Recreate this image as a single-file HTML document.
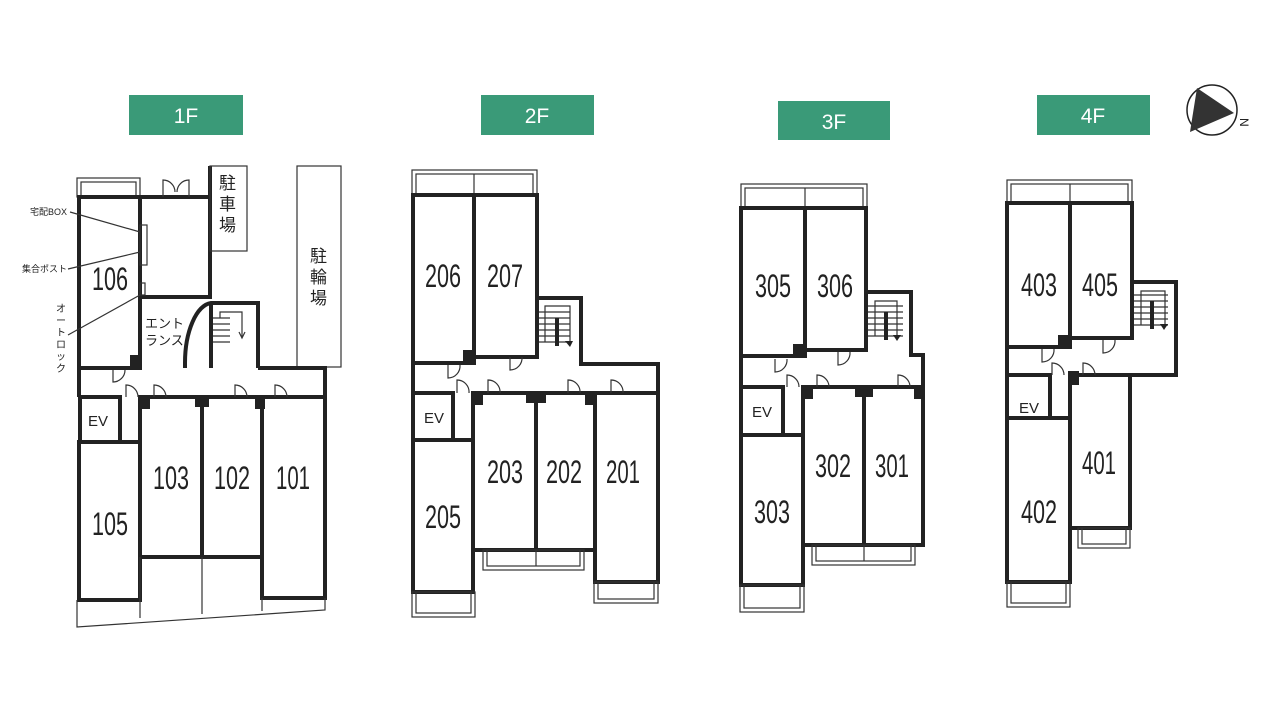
<!DOCTYPE html>
<html><head><meta charset="utf-8"><style>
html,body{margin:0;padding:0;background:#fff}
svg{display:block}
.w{fill:none;stroke:#222;stroke-width:4}
.t{fill:none;stroke:#333;stroke-width:1.2}
.n{font-family:"Liberation Sans Narrow","Liberation Sans",sans-serif;font-size:32px;fill:#222;text-anchor:middle}
.lb{font-family:"Liberation Sans",sans-serif;font-size:21px;fill:#fff;text-anchor:middle}
.jp{font-family:"Liberation Sans","Noto Sans CJK JP",sans-serif;fill:#222}
.p{fill:#222}
</style></head><body>
<svg width="1280" height="720" viewBox="0 0 1280 720" xmlns="http://www.w3.org/2000/svg">
<rect width="1280" height="720" fill="#fff"/>
<!-- labels -->
<rect x="129" y="95" width="114" height="40" fill="#3a9a78"/><text class="lb" x="186" y="123">1F</text>
<rect x="481" y="95" width="113" height="40" fill="#3a9a78"/><text class="lb" x="537" y="123">2F</text>
<rect x="778" y="101" width="112" height="39" fill="#3a9a78"/><text class="lb" x="834" y="129">3F</text>
<rect x="1037" y="95" width="113" height="40" fill="#3a9a78"/><text class="lb" x="1093" y="123">4F</text>
<!-- compass -->
<circle cx="1212" cy="110" r="25" fill="none" stroke="#222" stroke-width="1.5"/>
<polygon points="1197,88 1234,113 1190,132" fill="#333"/>
<text x="1240" y="118" class="jp" font-size="12" transform="rotate(90 1240 118)">N</text>

<!-- ===== 1F ===== -->
<rect class="t" x="77" y="178" width="63" height="19"/><rect class="t" x="81" y="182" width="55" height="15"/>
<rect class="w" x="79" y="197" width="61" height="171"/>
<rect class="w" x="140" y="197" width="70" height="100"/>
<line class="w" x1="210" y1="166" x2="210" y2="297"/>
<rect class="t" x="210" y="166" width="37" height="85"/>
<text class="jp" x="219" y="189" font-size="17">駐</text><text class="jp" x="219" y="210" font-size="17">車</text><text class="jp" x="219" y="231" font-size="17">場</text>
<rect class="t" x="297" y="166" width="44" height="201"/>
<text class="jp" x="310" y="262" font-size="17">駐</text><text class="jp" x="310" y="283" font-size="17">輪</text><text class="jp" x="310" y="304" font-size="17">場</text>
<path class="t" d="M163,197 V180 A12,12 0 0 1 175,192 M189,197 V180 A12,12 0 0 0 177,192"/>
<rect class="t" x="140" y="225" width="7" height="40"/><rect class="t" x="140" y="283" width="5" height="12"/>
<g class="jp" font-size="9"><text x="30" y="215">宅配BOX</text><text x="22" y="272">集合ポスト</text></g>
<line class="t" x1="70" y1="212" x2="140" y2="232"/><line class="t" x1="68" y1="269" x2="140" y2="252"/><line class="t" x1="68" y1="335" x2="140" y2="295"/>
<text class="jp" font-size="10" x="56" y="312">オ</text><text class="jp" font-size="10" x="56" y="324">ー</text><text class="jp" font-size="10" x="56" y="336">ト</text><text class="jp" font-size="10" x="56" y="348">ロ</text><text class="jp" font-size="10" x="56" y="360">ッ</text><text class="jp" font-size="10" x="56" y="372">ク</text>
<text class="jp" x="145" y="328" font-size="13">エント</text><text class="jp" x="145" y="345" font-size="13">ランス</text>
<path class="w" d="M185,368 V363 A28,60 0 0 1 211,303 H258 V368"/>
<line class="w" x1="211" y1="303" x2="211" y2="368"/>
<g class="t"><line x1="213" y1="318" x2="230" y2="318"/><line x1="213" y1="324" x2="230" y2="324"/><line x1="213" y1="330" x2="230" y2="330"/><line x1="213" y1="336" x2="230" y2="336"/><line x1="213" y1="342" x2="230" y2="342"/><path d="M220,318 V312 H242 V337"/><path d="M239,332 L242,338 L245,332"/></g>
<path class="w" d="M258,368 H325 V397"/><line class="w" x1="79" y1="368" x2="79" y2="397"/>
<rect class="w" x="80" y="397" width="40" height="45"/><text class="jp" x="88" y="426" font-size="15">EV</text>
<rect class="w" x="79" y="442" width="61" height="158"/>
<rect class="w" x="140" y="397" width="62" height="160"/>
<rect class="w" x="202" y="397" width="60" height="160"/>
<rect class="w" x="262" y="397" width="63" height="201"/>
<rect class="p" x="130" y="355" width="10" height="13"/><rect class="p" x="140" y="397" width="10" height="12"/><rect class="p" x="195" y="397" width="14" height="10"/><rect class="p" x="255" y="397" width="10" height="12"/>
<g class="t"><path d="M113,370 V382 A12,12 0 0 0 125,370"/><path d="M126,397 V385 A12,12 0 0 1 138,397"/><path d="M154,397 V385 A12,12 0 0 1 166,397"/><path d="M235,397 V385 A12,12 0 0 1 247,397"/><path d="M275,397 V385 A12,12 0 0 1 287,397"/></g>
<path class="t" d="M77,600 V627 L325,610 V598 M140,557 V618 M202,557 V614 M262,598 V611"/>
<g class="n">
<text x="110" y="290" textLength="36" lengthAdjust="spacingAndGlyphs">106</text><text x="110" y="535" textLength="36" lengthAdjust="spacingAndGlyphs">105</text><text x="171" y="489" textLength="36" lengthAdjust="spacingAndGlyphs">103</text><text x="232" y="489" textLength="36" lengthAdjust="spacingAndGlyphs">102</text><text x="293" y="489" textLength="34" lengthAdjust="spacingAndGlyphs">101</text>
</g>

<!-- ===== 2F ===== -->
<rect class="t" x="412" y="170" width="125" height="25"/><rect class="t" x="416" y="174" width="117" height="21"/><line class="t" x1="474" y1="174" x2="474" y2="195"/>
<rect class="w" x="413" y="195" width="61" height="168"/>
<rect class="w" x="474" y="195" width="63" height="162"/>
<path class="w" d="M537,357 V298 H581 V364 H658 V393 M413,363 V393"/>
<g class="t"><line x1="539" y1="312" x2="570" y2="312"/><line x1="539" y1="318" x2="570" y2="318"/><line x1="539" y1="324" x2="570" y2="324"/><line x1="539" y1="330" x2="570" y2="330"/><line x1="539" y1="336" x2="570" y2="336"/><line x1="539" y1="342" x2="570" y2="342"/><path d="M545,342 V306 H570 V343"/></g><rect class="p" x="555" y="318" width="4" height="28"/><path d="M565,341 L570,347 L573,341Z" fill="#222"/>
<rect class="w" x="413" y="393" width="40" height="47"/><text class="jp" x="424" y="423" font-size="15">EV</text>
<rect class="w" x="413" y="440" width="60" height="152"/>
<rect class="w" x="473" y="393" width="63" height="157"/>
<rect class="w" x="536" y="393" width="59" height="157"/>
<rect class="w" x="595" y="393" width="63" height="189"/>
<rect class="p" x="463" y="350" width="11" height="13"/><rect class="p" x="473" y="393" width="10" height="12"/><rect class="p" x="526" y="393" width="20" height="10"/><rect class="p" x="585" y="393" width="10" height="12"/>
<g class="t"><path d="M448,365 V378 A12,12 0 0 0 460,365"/><path d="M510,357 V370 A12,12 0 0 0 522,357"/><path d="M457,393 V380 A12,12 0 0 1 469,393"/><path d="M488,393 V380 A12,12 0 0 1 500,393"/><path d="M568,393 V380 A12,12 0 0 1 580,393"/><path d="M611,393 V380 A12,12 0 0 1 623,393"/></g>
<rect class="t" x="412" y="592" width="63" height="25"/><rect class="t" x="416" y="592" width="55" height="21"/>
<rect class="t" x="483" y="550" width="101" height="20"/><rect class="t" x="487" y="550" width="93" height="16"/><line class="t" x1="536" y1="550" x2="536" y2="566"/>
<rect class="t" x="594" y="582" width="64" height="21"/><rect class="t" x="598" y="582" width="56" height="17"/>
<g class="n">
<text x="443" y="287" textLength="36" lengthAdjust="spacingAndGlyphs">206</text><text x="505" y="287" textLength="36" lengthAdjust="spacingAndGlyphs">207</text><text x="443" y="528" textLength="36" lengthAdjust="spacingAndGlyphs">205</text><text x="505" y="483" textLength="36" lengthAdjust="spacingAndGlyphs">203</text><text x="564" y="483" textLength="36" lengthAdjust="spacingAndGlyphs">202</text><text x="623" y="483" textLength="34" lengthAdjust="spacingAndGlyphs">201</text>
</g>

<!-- ===== 3F ===== -->
<rect class="t" x="741" y="184" width="126" height="24"/><rect class="t" x="745" y="188" width="118" height="20"/><line class="t" x1="805" y1="188" x2="805" y2="208"/>
<rect class="w" x="741" y="208" width="64" height="148"/>
<rect class="w" x="805" y="208" width="61" height="142"/>
<path class="w" d="M866,350 V292 H911 V355 H923 V387 M741,356 V387"/>
<g class="t"><line x1="868" y1="306" x2="903" y2="306"/><line x1="868" y1="312" x2="903" y2="312"/><line x1="868" y1="318" x2="903" y2="318"/><line x1="868" y1="324" x2="903" y2="324"/><line x1="868" y1="330" x2="903" y2="330"/><line x1="868" y1="336" x2="903" y2="336"/><path d="M875,336 V301 H897 V337"/></g><rect class="p" x="884" y="312" width="4" height="28"/><path d="M893,335 L897,341 L901,335Z" fill="#222"/>
<rect class="w" x="741" y="387" width="42" height="48"/><text class="jp" x="752" y="417" font-size="15">EV</text>
<rect class="w" x="741" y="435" width="62" height="150"/>
<rect class="w" x="803" y="387" width="61" height="158"/>
<rect class="w" x="864" y="387" width="59" height="158"/>
<rect class="p" x="793" y="344" width="12" height="12"/><rect class="p" x="803" y="387" width="10" height="12"/><rect class="p" x="855" y="387" width="18" height="10"/><rect class="p" x="914" y="387" width="10" height="12"/>
<g class="t"><path d="M775,359 V372 A12,12 0 0 0 787,359"/><path d="M838,352 V365 A12,12 0 0 0 850,352"/><path d="M787,387 V375 A12,12 0 0 1 799,387"/><path d="M817,387 V375 A12,12 0 0 1 829,387"/><path d="M898,387 V375 A12,12 0 0 1 910,387"/></g>
<rect class="t" x="740" y="585" width="64" height="27"/><rect class="t" x="744" y="585" width="56" height="23"/>
<rect class="t" x="812" y="545" width="103" height="20"/><rect class="t" x="816" y="545" width="95" height="16"/><line class="t" x1="864" y1="545" x2="864" y2="561"/>
<g class="n">
<text x="773" y="297" textLength="36" lengthAdjust="spacingAndGlyphs">305</text><text x="835" y="297" textLength="36" lengthAdjust="spacingAndGlyphs">306</text><text x="772" y="523" textLength="36" lengthAdjust="spacingAndGlyphs">303</text><text x="833" y="477" textLength="36" lengthAdjust="spacingAndGlyphs">302</text><text x="892" y="477" textLength="34" lengthAdjust="spacingAndGlyphs">301</text>
</g>

<!-- ===== 4F ===== -->
<rect class="t" x="1007" y="180" width="125" height="23"/><rect class="t" x="1011" y="184" width="117" height="19"/><line class="t" x1="1070" y1="184" x2="1070" y2="203"/>
<rect class="w" x="1007" y="203" width="63" height="144"/>
<rect class="w" x="1070" y="203" width="62" height="135"/>
<path class="w" d="M1132,338 V282 H1176 V375 H1130 M1007,347 V375"/>
<g class="t"><line x1="1134" y1="295" x2="1168" y2="295"/><line x1="1134" y1="301" x2="1168" y2="301"/><line x1="1134" y1="307" x2="1168" y2="307"/><line x1="1134" y1="313" x2="1168" y2="313"/><line x1="1134" y1="319" x2="1168" y2="319"/><line x1="1134" y1="325" x2="1168" y2="325"/><path d="M1141,325 V291 H1165 V327"/></g><rect class="p" x="1150" y="301" width="4" height="28"/><path d="M1160,324 L1164,330 L1168,324Z" fill="#222"/>
<rect class="w" x="1007" y="375" width="43" height="43"/><text class="jp" x="1019" y="413" font-size="15">EV</text>
<rect class="w" x="1007" y="418" width="63" height="164"/>
<rect class="w" x="1070" y="375" width="60" height="153"/>
<rect class="p" x="1058" y="335" width="12" height="12"/><rect class="p" x="1068" y="371" width="11" height="14"/>
<g class="t"><path d="M1042,349 V362 A12,12 0 0 0 1054,349"/><path d="M1103,340 V353 A12,12 0 0 0 1115,340"/><path d="M1052,375 V363 A12,12 0 0 1 1064,375"/><path d="M1083,375 V363 A12,12 0 0 1 1095,375"/></g>
<rect class="t" x="1007" y="582" width="63" height="25"/><rect class="t" x="1011" y="582" width="55" height="21"/>
<rect class="t" x="1078" y="528" width="52" height="20"/><rect class="t" x="1082" y="528" width="44" height="16"/>
<g class="n">
<text x="1039" y="296" textLength="36" lengthAdjust="spacingAndGlyphs">403</text><text x="1100" y="296" textLength="36" lengthAdjust="spacingAndGlyphs">405</text><text x="1039" y="523" textLength="36" lengthAdjust="spacingAndGlyphs">402</text><text x="1099" y="474" textLength="34" lengthAdjust="spacingAndGlyphs">401</text>
</g>
</svg>
</body></html>
